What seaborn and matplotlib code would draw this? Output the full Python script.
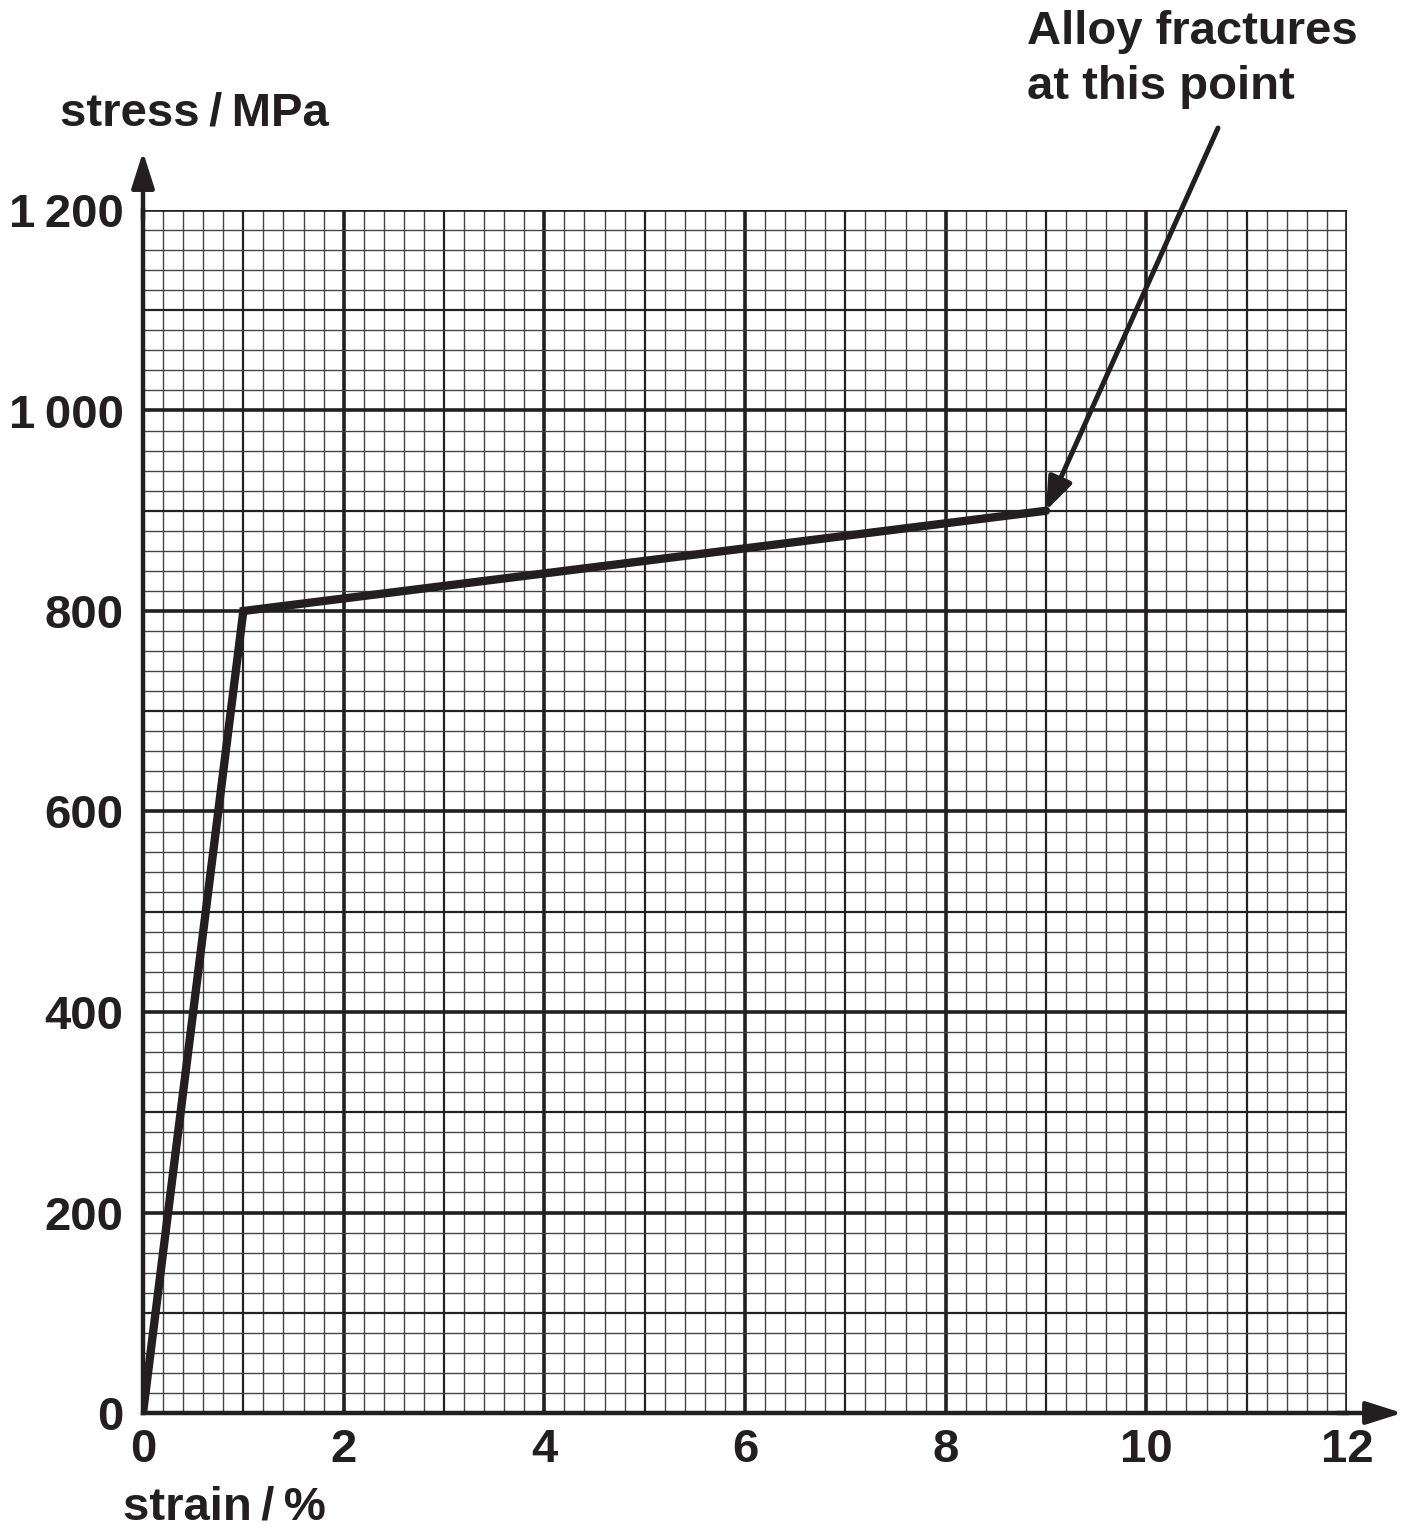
import numpy as np
import pandas as pd
import matplotlib
matplotlib.use("Agg")
import matplotlib.pyplot as plt
import seaborn as sns

strain = [0, 1, 9]
stress = [0, 800, 900]
x_ticks = [0, 2, 4, 6, 8, 10, 12]
y_ticks = [0, 200, 400, 600, 800, 1000, 1200]
y_tick_labels = ["0", "200", "400", "600", "800", "1\u2009000", "1\u2009200"]

sns.set_style("white")
plt.rcParams['font.family'] = ['Liberation Sans', 'DejaVu Sans']
plt.rcParams['font.weight'] = 'bold'

W, H = 1420, 1533
FS = 34
INK = '#231f20'
fig = plt.figure(figsize=(W / 100, H / 100), dpi=100)
x0, x1, ytop, ybot = 143, 1347, 210, 1413
ax = fig.add_axes([x0 / W, (H - ybot) / H, (x1 - x0) / W, (ybot - ytop) / H])
ax.set_xlim(0, 12)
ax.set_ylim(0, 1200)

# grid
for xv in np.arange(0, 12.01, 0.2):
    k = round(xv * 5)
    if k % 10 == 0:
        lw, c = 2.6, INK
    elif k % 5 == 0:
        lw, c = 1.6, '#222222'
    else:
        lw, c = 1.0, '#444444'
    ax.axvline(xv, color=c, lw=lw, zorder=1)
for yv in np.arange(0, 1200.1, 20):
    k = round(yv / 20)
    if k % 10 == 0:
        lw, c = 2.6, INK
    elif k % 5 == 0:
        lw, c = 1.6, '#222222'
    else:
        lw, c = 1.0, '#444444'
    ax.axhline(yv, color=c, lw=lw, zorder=1)

df = pd.DataFrame({"strain": strain, "stress": stress})
sns.lineplot(data=df, x="strain", y="stress", ax=ax, color=INK, lw=6,
             sort=False, zorder=5, solid_joinstyle='miter')

for s in ['top', 'right']:
    ax.spines[s].set_visible(False)
for s in ['left', 'bottom']:
    ax.spines[s].set_linewidth(3.2)
    ax.spines[s].set_color(INK)
    ax.spines[s].set_zorder(6)

ax.set_xticks(x_ticks)
ax.set_yticks(y_ticks)
ax.set_yticklabels(y_tick_labels)
ax.tick_params(axis='both', which='major', length=8, width=3, color=INK,
               labelsize=FS, labelcolor=INK)
ax.tick_params(axis='y', pad=6)
ax.tick_params(axis='x', pad=3)
for lab in ax.get_xticklabels() + ax.get_yticklabels():
    lab.set_fontweight('bold')
ax.set_xlabel("")
ax.set_ylabel("")

# axis arrows
ax.annotate("", xy=(12.55, 0), xytext=(11.9, 0), xycoords='data', textcoords='data',
            arrowprops=dict(arrowstyle='-|>,head_length=2.2,head_width=0.7', lw=3.2,
                            color=INK, shrinkA=0, shrinkB=0), annotation_clip=False)
ax.annotate("", xy=(0, 1258), xytext=(0, 1190), xycoords='data', textcoords='data',
            arrowprops=dict(arrowstyle='-|>,head_length=2.2,head_width=0.7', lw=3.2,
                            color=INK, shrinkA=0, shrinkB=0), annotation_clip=False)

# axis titles
fig.text(60 / W, 1 - 113 / H, "stress\u2009/\u2009MPa", fontsize=FS, fontweight='bold',
         color=INK, ha='left', va='center')
fig.text(123 / W, 1 - 1507 / H, "strain\u2009/\u2009%", fontsize=FS, fontweight='bold',
         color=INK, ha='left', va='center')

# annotation
fig.text(1027 / W, 1 - 10 / H, "Alloy fractures\nat this point", fontsize=FS,
         fontweight='bold', color=INK, ha='left', va='top', linespacing=1.33)
ax.annotate("", xy=(9, 900), xytext=(1218, H - 128), xycoords='data',
            textcoords='figure pixels',
            arrowprops=dict(arrowstyle='-|>,head_length=2.0,head_width=0.75', lw=3.6,
                            color=INK, shrinkA=0, shrinkB=0), annotation_clip=False)

fig.savefig("out.png", dpi=100, facecolor='white')
